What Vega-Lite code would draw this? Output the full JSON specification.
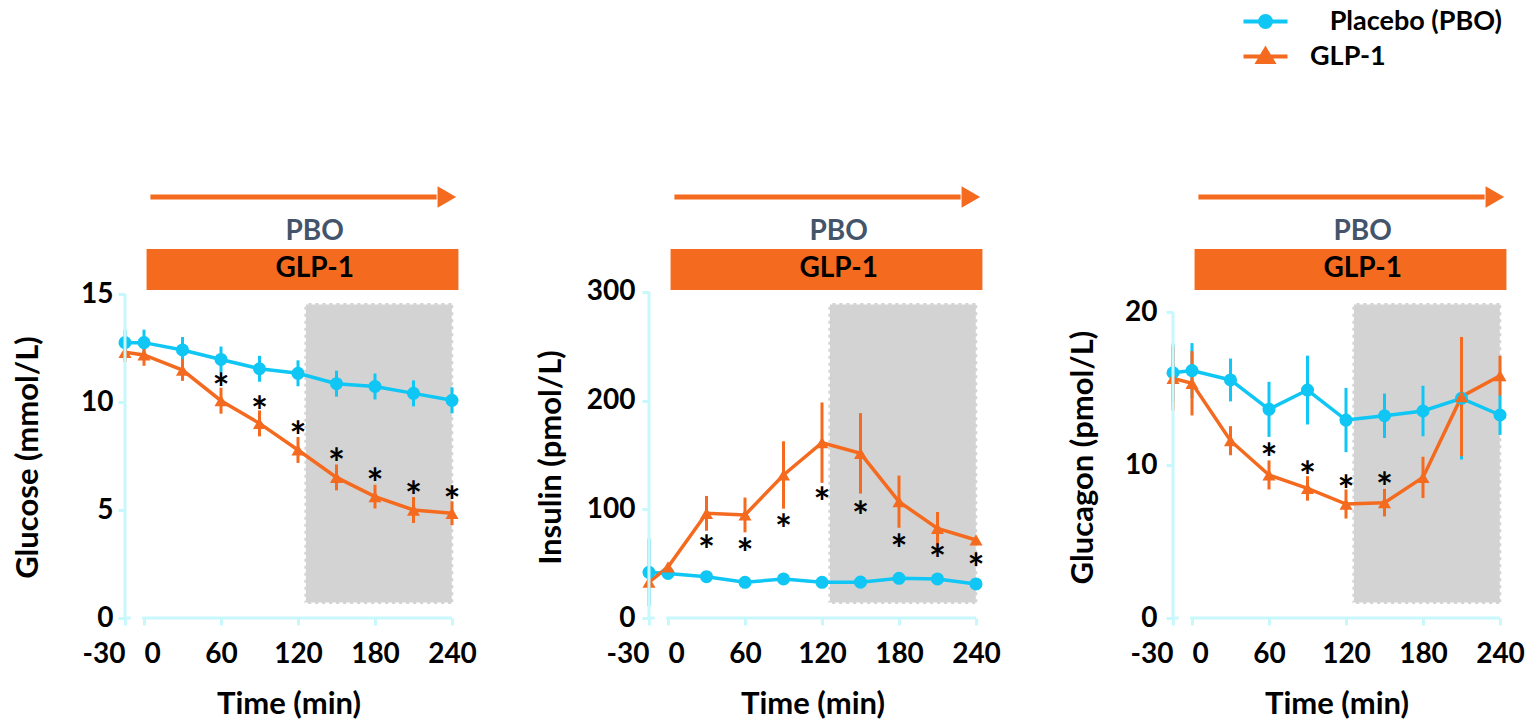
{
  "$schema": "https://vega.github.io/schema/vega-lite/v6.json",
  "padding": {"left": 12, "top": 8, "right": 5, "bottom": 0},
  "config": {
    "font": "Lato",
    "view": {"stroke": null},
    "axis": {
      "domainColor": "#C8F8FC", "domainWidth": 3, "tickColor": "#C8F8FC", "tickWidth": 3, "tickSize": 7,
      "labelFont": "Lato", "labelFontSize": 28, "labelFontWeight": "bold", "labelColor": "#000000",
      "titleFont": "Lato", "titleFontSize": 31, "titleFontWeight": "bold", "titleColor": "#000000",
      "grid": false, "labelFlush": false, "labelOverlap": false
    },
    "legend": {"symbolOpacity": 1}
  },
  "datasets": {
    "hdr": [
      {"k": "box", "t": 125, "t2": 241, "h": 14, "h2": 315},
      {"k": "arrow", "t": 5, "t2": 228, "h": 421},
      {"k": "head", "t": 236, "h": 421},
      {"k": "bar", "t": 2, "t2": 245, "h": 328, "h2": 369},
      {"k": "pbo", "t": 133, "h": 386, "label": "PBO"},
      {"k": "glp", "t": 133, "h": 349, "label": "GLP-1"}
    ],
    "ax": [
      {"a": -30, "a2": -21},
      {"a": -3, "a2": 240}
    ],
    "obs": [
      {"p": "G", "g": "Placebo (PBO)", "t": -30, "v": 12.75, "lo": 12.15, "hi": 13.35},
      {"p": "G", "g": "Placebo (PBO)", "t": 0, "v": 12.75, "lo": 12.15, "hi": 13.35},
      {"p": "G", "g": "Placebo (PBO)", "t": 30, "v": 12.41, "lo": 11.81, "hi": 13.01},
      {"p": "G", "g": "Placebo (PBO)", "t": 60, "v": 11.97, "lo": 11.37, "hi": 12.57},
      {"p": "G", "g": "Placebo (PBO)", "t": 90, "v": 11.54, "lo": 10.94, "hi": 12.14},
      {"p": "G", "g": "Placebo (PBO)", "t": 120, "v": 11.33, "lo": 10.73, "hi": 11.93},
      {"p": "G", "g": "Placebo (PBO)", "t": 150, "v": 10.85, "lo": 10.25, "hi": 11.45},
      {"p": "G", "g": "Placebo (PBO)", "t": 180, "v": 10.72, "lo": 10.12, "hi": 11.32},
      {"p": "G", "g": "Placebo (PBO)", "t": 210, "v": 10.40, "lo": 9.80, "hi": 11.00},
      {"p": "G", "g": "Placebo (PBO)", "t": 240, "v": 10.08, "lo": 9.48, "hi": 10.68},
      {"p": "G", "g": "GLP-1", "t": -30, "v": 12.30, "lo": 11.85, "hi": 12.75},
      {"p": "G", "g": "GLP-1", "t": 0, "v": 12.18, "lo": 11.68, "hi": 12.68},
      {"p": "G", "g": "GLP-1", "t": 30, "v": 11.48, "lo": 10.98, "hi": 11.98},
      {"p": "G", "g": "GLP-1", "t": 60, "v": 10.06, "lo": 9.46, "hi": 10.66},
      {"p": "G", "g": "GLP-1", "t": 90, "v": 9.01, "lo": 8.41, "hi": 9.61},
      {"p": "G", "g": "GLP-1", "t": 120, "v": 7.78, "lo": 7.18, "hi": 8.38},
      {"p": "G", "g": "GLP-1", "t": 150, "v": 6.51, "lo": 5.91, "hi": 7.11},
      {"p": "G", "g": "GLP-1", "t": 180, "v": 5.62, "lo": 5.07, "hi": 6.17},
      {"p": "G", "g": "GLP-1", "t": 210, "v": 5.00, "lo": 4.40, "hi": 5.60},
      {"p": "G", "g": "GLP-1", "t": 240, "v": 4.85, "lo": 4.30, "hi": 5.40},
      {"p": "I", "g": "Placebo (PBO)", "t": -30, "v": 42, "lo": 11, "hi": 73},
      {"p": "I", "g": "Placebo (PBO)", "t": 0, "v": 41, "lo": 38, "hi": 44},
      {"p": "I", "g": "Placebo (PBO)", "t": 30, "v": 38, "lo": 35, "hi": 41},
      {"p": "I", "g": "Placebo (PBO)", "t": 60, "v": 32.8, "lo": 29.8, "hi": 35.8},
      {"p": "I", "g": "Placebo (PBO)", "t": 90, "v": 35.9, "lo": 32.9, "hi": 38.9},
      {"p": "I", "g": "Placebo (PBO)", "t": 120, "v": 32.8, "lo": 29.8, "hi": 35.8},
      {"p": "I", "g": "Placebo (PBO)", "t": 150, "v": 33, "lo": 30, "hi": 36},
      {"p": "I", "g": "Placebo (PBO)", "t": 180, "v": 36.5, "lo": 33.5, "hi": 39.5},
      {"p": "I", "g": "Placebo (PBO)", "t": 210, "v": 35.9, "lo": 32.9, "hi": 38.9},
      {"p": "I", "g": "Placebo (PBO)", "t": 240, "v": 31.3, "lo": 28.3, "hi": 34.3},
      {"p": "I", "g": "GLP-1", "t": -30, "v": 33, "lo": 31, "hi": 35},
      {"p": "I", "g": "GLP-1", "t": 0, "v": 47, "lo": 45, "hi": 49},
      {"p": "I", "g": "GLP-1", "t": 30, "v": 96.3, "lo": 80.3, "hi": 112.3},
      {"p": "I", "g": "GLP-1", "t": 60, "v": 94.8, "lo": 78.8, "hi": 110.8},
      {"p": "I", "g": "GLP-1", "t": 90, "v": 131.6, "lo": 100.6, "hi": 162.6},
      {"p": "I", "g": "GLP-1", "t": 120, "v": 161.3, "lo": 124.3, "hi": 198.3},
      {"p": "I", "g": "GLP-1", "t": 150, "v": 151.5, "lo": 114.5, "hi": 188.5},
      {"p": "I", "g": "GLP-1", "t": 180, "v": 107, "lo": 83, "hi": 131},
      {"p": "I", "g": "GLP-1", "t": 210, "v": 82.5, "lo": 67.5, "hi": 97.5},
      {"p": "I", "g": "GLP-1", "t": 240, "v": 71.8, "lo": 69.8, "hi": 73.8},
      {"p": "C", "g": "Placebo (PBO)", "t": -30, "v": 16.03, "lo": 14.13, "hi": 17.93},
      {"p": "C", "g": "Placebo (PBO)", "t": 0, "v": 16.17, "lo": 14.37, "hi": 17.97},
      {"p": "C", "g": "Placebo (PBO)", "t": 30, "v": 15.56, "lo": 14.16, "hi": 16.96},
      {"p": "C", "g": "Placebo (PBO)", "t": 60, "v": 13.64, "lo": 11.84, "hi": 15.44},
      {"p": "C", "g": "Placebo (PBO)", "t": 90, "v": 14.9, "lo": 12.65, "hi": 17.15},
      {"p": "C", "g": "Placebo (PBO)", "t": 120, "v": 12.94, "lo": 10.84, "hi": 15.04},
      {"p": "C", "g": "Placebo (PBO)", "t": 150, "v": 13.22, "lo": 11.77, "hi": 14.67},
      {"p": "C", "g": "Placebo (PBO)", "t": 180, "v": 13.53, "lo": 11.88, "hi": 15.18},
      {"p": "C", "g": "Placebo (PBO)", "t": 210, "v": 14.36, "lo": 10.36, "hi": 18.36},
      {"p": "C", "g": "Placebo (PBO)", "t": 240, "v": 13.27, "lo": 11.97, "hi": 14.57},
      {"p": "C", "g": "GLP-1", "t": -30, "v": 15.66, "lo": 13.56, "hi": 17.76},
      {"p": "C", "g": "GLP-1", "t": 0, "v": 15.34, "lo": 13.24, "hi": 17.44},
      {"p": "C", "g": "GLP-1", "t": 30, "v": 11.59, "lo": 10.64, "hi": 12.54},
      {"p": "C", "g": "GLP-1", "t": 60, "v": 9.35, "lo": 8.4, "hi": 10.3},
      {"p": "C", "g": "GLP-1", "t": 90, "v": 8.47, "lo": 7.67, "hi": 9.27},
      {"p": "C", "g": "GLP-1", "t": 120, "v": 7.45, "lo": 6.5, "hi": 8.4},
      {"p": "C", "g": "GLP-1", "t": 150, "v": 7.54, "lo": 6.64, "hi": 8.44},
      {"p": "C", "g": "GLP-1", "t": 180, "v": 9.19, "lo": 7.84, "hi": 10.54},
      {"p": "C", "g": "GLP-1", "t": 210, "v": 14.47, "lo": 10.57, "hi": 18.37},
      {"p": "C", "g": "GLP-1", "t": 240, "v": 15.84, "lo": 14.54, "hi": 17.14}
    ],
    "stars": [
      {"p": "G", "t": 60, "v": 11.0}, {"p": "G", "t": 90, "v": 9.94}, {"p": "G", "t": 120, "v": 8.78},
      {"p": "G", "t": 150, "v": 7.55}, {"p": "G", "t": 180, "v": 6.62}, {"p": "G", "t": 210, "v": 6.0},
      {"p": "G", "t": 240, "v": 5.77},
      {"p": "I", "t": 30, "v": 70.2}, {"p": "I", "t": 60, "v": 67.2}, {"p": "I", "t": 90, "v": 89.6},
      {"p": "I", "t": 120, "v": 113.8}, {"p": "I", "t": 150, "v": 101.5}, {"p": "I", "t": 180, "v": 70.9},
      {"p": "I", "t": 210, "v": 61.7}, {"p": "I", "t": 240, "v": 53.4},
      {"p": "C", "t": 60, "v": 10.98}, {"p": "C", "t": 90, "v": 9.83}, {"p": "C", "t": 120, "v": 8.91},
      {"p": "C", "t": 150, "v": 9.08}
    ]
  },
  "spacing": 195,
  "bounds": "flush",
  "resolve": {"scale": {"color": "shared"}, "legend": {"color": "shared"}},
  "hconcat": [
    {
      "width": 329, "height": 438,
      "resolve": {"scale": {"y": "independent"}},
      "layer": [
        {
          "data": {"name": "hdr"},
          "encoding": {
            "x": {"field": "t", "type": "quantitative"},
            "y": {"field": "h", "type": "quantitative", "scale": {"domain": [0, 438], "nice": false, "zero": false}, "axis": null}
          },
          "layer": [
            {"transform": [{"filter": "datum.k == 'box'"}], "mark": {"type": "rect", "fill": "#D3D3D3", "stroke": "#FFFFFF", "strokeWidth": 3, "strokeDash": [4, 3]}, "encoding": {"x2": {"field": "t2"}, "y2": {"field": "h2"}}},
            {"transform": [{"filter": "datum.k == 'arrow'"}], "mark": {"type": "rule", "color": "#F46A1F", "strokeWidth": 5}, "encoding": {"x2": {"field": "t2"}}},
            {"transform": [{"filter": "datum.k == 'head'"}], "mark": {"type": "point", "shape": "triangle-right", "filled": true, "color": "#F46A1F", "size": 460, "opacity": 1}},
            {"transform": [{"filter": "datum.k == 'bar'"}], "mark": {"type": "rect", "color": "#F46A1F"}, "encoding": {"x2": {"field": "t2"}, "y2": {"field": "h2"}}},
            {"transform": [{"filter": "datum.k == 'pbo'"}], "mark": {"type": "text", "font": "Lato", "fontSize": 28, "fontWeight": "bold", "color": "#44546A", "baseline": "middle", "align": "center"}, "encoding": {"text": {"field": "label"}}},
            {"transform": [{"filter": "datum.k == 'glp'"}], "mark": {"type": "text", "font": "Lato", "fontSize": 28, "fontWeight": "bold", "color": "#000000", "baseline": "middle", "align": "center"}, "encoding": {"text": {"field": "label"}}}
          ]
        },
        {
          "layer": [
            {
              "data": {"name": "obs"},
              "transform": [{"filter": "datum.p == 'G'"}],
              "encoding": {
                "x": {"field": "t", "type": "quantitative", "scale": {"domain": [-30, 0, 240], "range": [0, 19, 327], "nice": false, "zero": false},
                  "axis": {"values": [-30, 0, 60, 120, 180, 240], "domain": false, "title": "Time (min)", "labelPadding": 15, "titlePadding": 21,
                    "labelExpr": "datum.value == -30 ? '-30' : datum.label",
                    "labelAlign": {"condition": [{"test": "datum.value == -30", "value": "right"}, {"test": "datum.value == 0", "value": "left"}], "value": "center"}}},
                "y": {"field": "v", "type": "quantitative", "scale": {"domain": [0, 20.28], "nice": false, "zero": false},
                  "axis": {"values": [0, 5, 10, 15], "orient": "left", "domain": false, "title": "Glucose (mmol/L)", "titleX": -81, "titleY": 277, "titleAngle": 270, "titleBaseline": "bottom", "titleAlign": "center", "labelPadding": 5}},
                "color": {"field": "g", "type": "nominal", "scale": {"domain": ["Placebo (PBO)", "GLP-1"], "range": ["#0FC6F4", "#F46A1F"]},
                  "legend": {"title": null, "orient": "none", "legendX": 1127, "legendY": -172, "padding": 0, "symbolSize": 400, "rowPadding": 6, "labelOffset": 31, "labelLimit": 400,
                    "labelFont": "Lato", "labelFontSize": 27, "labelFontWeight": "bold", "labelColor": "#000000",
                    "labelExpr": "datum.label == 'GLP-1' ? 'GLP-1' : '\u200b\u00a0\u00a0\u00a0Placebo (PBO)'",
                    "encode": {
                      "symbols": {"update": {
                        "shape": {"signal": "datum.value == 'GLP-1' ? 'M-2.2,0H2.2M0,-0.7L0.75,0.55L-0.75,0.55Z' : 'M-2.2,0H2.2M0.55,0A0.55,0.55,0,1,1,-0.55,0A0.55,0.55,0,1,1,0.55,0Z'"},
                        "fill": {"signal": "datum.value == 'GLP-1' ? '#F46A1F' : '#0FC6F4'"},
                        "stroke": {"signal": "datum.value == 'GLP-1' ? '#F46A1F' : '#0FC6F4'"},
                        "strokeWidth": {"value": 4},
                        "opacity": {"value": 1}
                      }}
                    }}}
              },
              "layer": [
                {"mark": {"type": "rule", "strokeWidth": 3}, "encoding": {"y": {"field": "lo", "type": "quantitative"}, "y2": {"field": "hi"}}},
                {"mark": {"type": "line", "strokeWidth": 3.5}},
                {"transform": [{"filter": "datum.g == 'Placebo (PBO)'"}], "mark": {"type": "point", "shape": "circle", "filled": true, "size": 170, "opacity": 1}},
                {"transform": [{"filter": "datum.g == 'GLP-1'"}], "mark": {"type": "point", "shape": "triangle-up", "filled": true, "size": 170, "opacity": 1}}
              ]
            },
            {
              "data": {"name": "ax"},
              "layer": [
                {"mark": {"type": "rule", "color": "#C8F8FC", "strokeWidth": 3}, "encoding": {"x": {"field": "a", "type": "quantitative"}, "x2": {"field": "a2"}, "y": {"datum": 0}}},
                {"transform": [{"filter": "datum.a == -30"}], "mark": {"type": "rule", "color": "#C8F8FC", "strokeWidth": 3}, "encoding": {"x": {"field": "a", "type": "quantitative"}, "y": {"datum": 0}, "y2": {"datum": 15}}}
              ]
            },
            {
              "data": {"name": "stars"},
              "transform": [{"filter": "datum.p == 'G'"}],
              "mark": {"type": "text", "text": "*", "font": "Lato", "fontSize": 40, "fontWeight": "bold", "color": "#000000", "baseline": "middle", "align": "center", "dy": 11},
              "encoding": {"x": {"field": "t", "type": "quantitative"}, "y": {"field": "v", "type": "quantitative"}}
            }
          ]
        }
      ]
    },
    {
      "width": 329, "height": 438,
      "resolve": {"scale": {"y": "independent"}},
      "layer": [
        {
          "data": {"name": "hdr"},
          "encoding": {
            "x": {"field": "t", "type": "quantitative"},
            "y": {"field": "h", "type": "quantitative", "scale": {"domain": [0, 438], "nice": false, "zero": false}, "axis": null}
          },
          "layer": [
            {"transform": [{"filter": "datum.k == 'box'"}], "mark": {"type": "rect", "fill": "#D3D3D3", "stroke": "#FFFFFF", "strokeWidth": 3, "strokeDash": [4, 3]}, "encoding": {"x2": {"field": "t2"}, "y2": {"field": "h2"}}},
            {"transform": [{"filter": "datum.k == 'arrow'"}], "mark": {"type": "rule", "color": "#F46A1F", "strokeWidth": 5}, "encoding": {"x2": {"field": "t2"}}},
            {"transform": [{"filter": "datum.k == 'head'"}], "mark": {"type": "point", "shape": "triangle-right", "filled": true, "color": "#F46A1F", "size": 460, "opacity": 1}},
            {"transform": [{"filter": "datum.k == 'bar'"}], "mark": {"type": "rect", "color": "#F46A1F"}, "encoding": {"x2": {"field": "t2"}, "y2": {"field": "h2"}}},
            {"transform": [{"filter": "datum.k == 'pbo'"}], "mark": {"type": "text", "font": "Lato", "fontSize": 28, "fontWeight": "bold", "color": "#44546A", "baseline": "middle", "align": "center"}, "encoding": {"text": {"field": "label"}}},
            {"transform": [{"filter": "datum.k == 'glp'"}], "mark": {"type": "text", "font": "Lato", "fontSize": 28, "fontWeight": "bold", "color": "#000000", "baseline": "middle", "align": "center"}, "encoding": {"text": {"field": "label"}}}
          ]
        },
        {
          "layer": [
            {
              "data": {"name": "obs"},
              "transform": [{"filter": "datum.p == 'I'"}],
              "encoding": {
                "x": {"field": "t", "type": "quantitative", "scale": {"domain": [-30, 0, 240], "range": [0, 19, 327], "nice": false, "zero": false},
                  "axis": {"values": [-30, 0, 60, 120, 180, 240], "domain": false, "title": "Time (min)", "labelPadding": 15, "titlePadding": 21,
                    "labelExpr": "datum.value == -30 ? '-30' : datum.label",
                    "labelAlign": {"condition": [{"test": "datum.value == -30", "value": "right"}, {"test": "datum.value == 0", "value": "left"}], "value": "center"}}},
                "y": {"field": "v", "type": "quantitative", "scale": {"domain": [0, 403], "nice": false, "zero": false},
                  "axis": {"values": [0, 100, 200, 300], "orient": "left", "domain": false, "title": "Insulin (pmol/L)", "titleX": -82, "titleY": 277, "titleAngle": 270, "titleBaseline": "bottom", "titleAlign": "center", "labelPadding": 7}},
                "color": {"field": "g", "type": "nominal", "scale": {"domain": ["Placebo (PBO)", "GLP-1"], "range": ["#0FC6F4", "#F46A1F"]}}
              },
              "layer": [
                {"mark": {"type": "rule", "strokeWidth": 3}, "encoding": {"y": {"field": "lo", "type": "quantitative"}, "y2": {"field": "hi"}}},
                {"mark": {"type": "line", "strokeWidth": 3.5}},
                {"transform": [{"filter": "datum.g == 'Placebo (PBO)'"}], "mark": {"type": "point", "shape": "circle", "filled": true, "size": 170, "opacity": 1}},
                {"transform": [{"filter": "datum.g == 'GLP-1'"}], "mark": {"type": "point", "shape": "triangle-up", "filled": true, "size": 170, "opacity": 1}}
              ]
            },
            {
              "data": {"name": "ax"},
              "layer": [
                {"mark": {"type": "rule", "color": "#C8F8FC", "strokeWidth": 3}, "encoding": {"x": {"field": "a", "type": "quantitative"}, "x2": {"field": "a2"}, "y": {"datum": 0}}},
                {"transform": [{"filter": "datum.a == -30"}], "mark": {"type": "rule", "color": "#C8F8FC", "strokeWidth": 3}, "encoding": {"x": {"field": "a", "type": "quantitative"}, "y": {"datum": 0}, "y2": {"datum": 300}}}
              ]
            },
            {
              "data": {"name": "stars"},
              "transform": [{"filter": "datum.p == 'I'"}],
              "mark": {"type": "text", "text": "*", "font": "Lato", "fontSize": 40, "fontWeight": "bold", "color": "#000000", "baseline": "middle", "align": "center", "dy": 11},
              "encoding": {"x": {"field": "t", "type": "quantitative"}, "y": {"field": "v", "type": "quantitative"}}
            }
          ]
        }
      ]
    },
    {
      "width": 329, "height": 438,
      "resolve": {"scale": {"y": "independent"}},
      "layer": [
        {
          "data": {"name": "hdr"},
          "encoding": {
            "x": {"field": "t", "type": "quantitative"},
            "y": {"field": "h", "type": "quantitative", "scale": {"domain": [0, 438], "nice": false, "zero": false}, "axis": null}
          },
          "layer": [
            {"transform": [{"filter": "datum.k == 'box'"}], "mark": {"type": "rect", "fill": "#D3D3D3", "stroke": "#FFFFFF", "strokeWidth": 3, "strokeDash": [4, 3]}, "encoding": {"x2": {"field": "t2"}, "y2": {"field": "h2"}}},
            {"transform": [{"filter": "datum.k == 'arrow'"}], "mark": {"type": "rule", "color": "#F46A1F", "strokeWidth": 5}, "encoding": {"x2": {"field": "t2"}}},
            {"transform": [{"filter": "datum.k == 'head'"}], "mark": {"type": "point", "shape": "triangle-right", "filled": true, "color": "#F46A1F", "size": 460, "opacity": 1}},
            {"transform": [{"filter": "datum.k == 'bar'"}], "mark": {"type": "rect", "color": "#F46A1F"}, "encoding": {"x2": {"field": "t2"}, "y2": {"field": "h2"}}},
            {"transform": [{"filter": "datum.k == 'pbo'"}], "mark": {"type": "text", "font": "Lato", "fontSize": 28, "fontWeight": "bold", "color": "#44546A", "baseline": "middle", "align": "center"}, "encoding": {"text": {"field": "label"}}},
            {"transform": [{"filter": "datum.k == 'glp'"}], "mark": {"type": "text", "font": "Lato", "fontSize": 28, "fontWeight": "bold", "color": "#000000", "baseline": "middle", "align": "center"}, "encoding": {"text": {"field": "label"}}}
          ]
        },
        {
          "layer": [
            {
              "data": {"name": "obs"},
              "transform": [{"filter": "datum.p == 'C'"}],
              "encoding": {
                "x": {"field": "t", "type": "quantitative", "scale": {"domain": [-30, 0, 240], "range": [0, 19, 327], "nice": false, "zero": false},
                  "axis": {"values": [-30, 0, 60, 120, 180, 240], "domain": false, "title": "Time (min)", "labelPadding": 15, "titlePadding": 21,
                    "labelExpr": "datum.value == -30 ? '-30' : datum.label",
                    "labelAlign": {"condition": [{"test": "datum.value == -30", "value": "right"}, {"test": "datum.value == 0", "value": "left"}], "value": "center"}}},
                "y": {"field": "v", "type": "quantitative", "scale": {"domain": [0, 28.63], "nice": false, "zero": false},
                  "axis": {"values": [0, 10, 20], "orient": "left", "domain": false, "title": "Glucagon (pmol/L)", "titleX": -74, "titleY": 277, "titleAngle": 270, "titleBaseline": "bottom", "titleAlign": "center", "labelPadding": 9}},
                "color": {"field": "g", "type": "nominal", "scale": {"domain": ["Placebo (PBO)", "GLP-1"], "range": ["#0FC6F4", "#F46A1F"]}}
              },
              "layer": [
                {"mark": {"type": "rule", "strokeWidth": 3}, "encoding": {"y": {"field": "lo", "type": "quantitative"}, "y2": {"field": "hi"}}},
                {"mark": {"type": "line", "strokeWidth": 3.5}},
                {"transform": [{"filter": "datum.g == 'Placebo (PBO)'"}], "mark": {"type": "point", "shape": "circle", "filled": true, "size": 170, "opacity": 1}},
                {"transform": [{"filter": "datum.g == 'GLP-1'"}], "mark": {"type": "point", "shape": "triangle-up", "filled": true, "size": 170, "opacity": 1}}
              ]
            },
            {
              "data": {"name": "ax"},
              "layer": [
                {"mark": {"type": "rule", "color": "#C8F8FC", "strokeWidth": 3}, "encoding": {"x": {"field": "a", "type": "quantitative"}, "x2": {"field": "a2"}, "y": {"datum": 0}}},
                {"transform": [{"filter": "datum.a == -30"}], "mark": {"type": "rule", "color": "#C8F8FC", "strokeWidth": 3}, "encoding": {"x": {"field": "a", "type": "quantitative"}, "y": {"datum": 0}, "y2": {"datum": 20}}}
              ]
            },
            {
              "data": {"name": "stars"},
              "transform": [{"filter": "datum.p == 'C'"}],
              "mark": {"type": "text", "text": "*", "font": "Lato", "fontSize": 40, "fontWeight": "bold", "color": "#000000", "baseline": "middle", "align": "center", "dy": 11},
              "encoding": {"x": {"field": "t", "type": "quantitative"}, "y": {"field": "v", "type": "quantitative"}}
            }
          ]
        }
      ]
    }
  ]
}
